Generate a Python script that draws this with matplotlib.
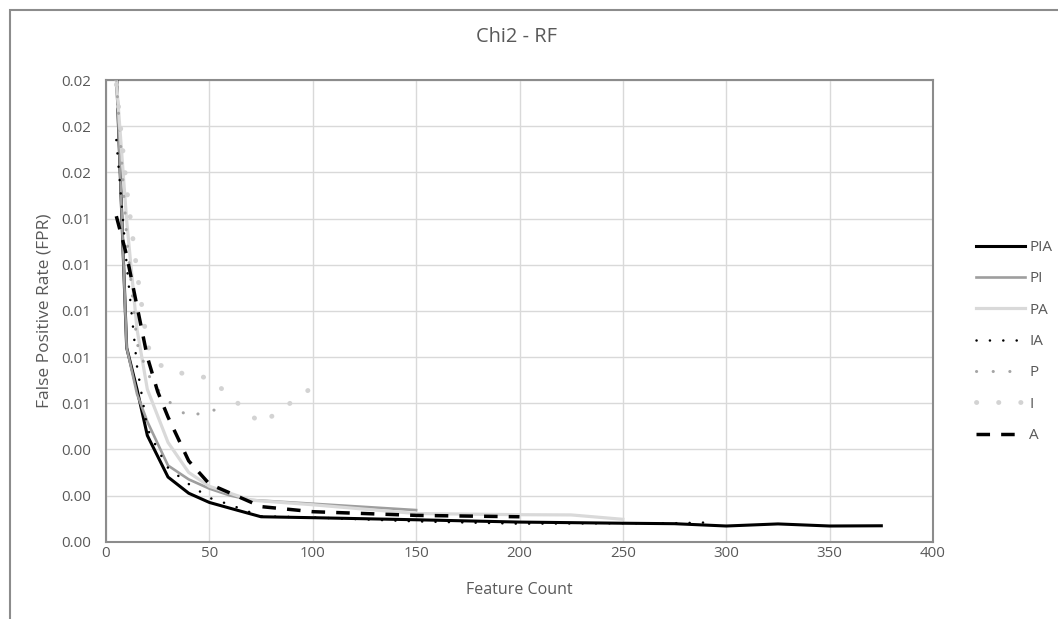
import matplotlib
matplotlib.use("Agg")
import matplotlib.pyplot as plt
from matplotlib.ticker import FormatStrFormatter, MultipleLocator
from matplotlib.patches import Rectangle

plt.rcParams['font.family'] = ['Open Sans', 'DejaVu Sans']

# ---- data ----
pia_x = [5, 10, 15, 20, 30, 40, 50, 60, 75, 100, 150, 200, 250, 275, 300, 325, 350, 375]
pia_y = [0.0205, 0.0084, 0.0066, 0.0046, 0.0028, 0.0021, 0.0017, 0.00145, 0.00108, 0.00104,
         0.00095, 0.00085, 0.00080, 0.00078, 0.00068, 0.00077, 0.00068, 0.00069]

pi_x = [5, 10, 15, 20, 30, 40, 50, 60, 70, 150]
pi_y = [0.0205, 0.0084, 0.0064, 0.0052, 0.0033, 0.0027, 0.0023, 0.0020, 0.00181, 0.00137]

pa_x = [5, 10, 15, 20, 30, 40, 50, 70, 100, 150, 200, 225, 250]
pa_y = [0.0200, 0.0139, 0.0092, 0.0066, 0.0043, 0.0030, 0.0024, 0.0018, 0.0016, 0.00122,
        0.00117, 0.00116, 0.00097]

ia_x = [5, 10, 15, 20, 25, 30, 40, 50, 60, 75, 100, 150, 200, 250, 275, 295]
ia_y = [0.0174, 0.0120, 0.0076, 0.0049, 0.0040, 0.0032, 0.0025, 0.0019, 0.0016, 0.0011,
        0.00105, 0.00088, 0.00078, 0.00080, 0.00080, 0.00084]

p_x = [5, 10, 15, 20, 25, 30, 40, 50, 56]
p_y = [0.0200, 0.0132, 0.0086, 0.0073, 0.0066, 0.0061, 0.0054, 0.0057, 0.0057]

i_x = [5, 10, 15, 20, 25, 30, 40, 50, 75, 100]
i_y = [0.0198, 0.0153, 0.0117, 0.0085, 0.0077, 0.0075, 0.0072, 0.0071, 0.0051, 0.0067]

a_x = [5, 10, 15, 20, 25, 30, 40, 50, 75, 100, 150, 200]
a_y = [0.0141, 0.0124, 0.0102, 0.0080, 0.0065, 0.0054, 0.0035, 0.0025, 0.00152, 0.0013,
       0.00114, 0.00108]

series_labels = ['PIA', 'PI', 'PA', 'IA', 'P', 'I', 'A']
title_text = 'Chi2 - RF'
x_label = 'Feature Count'
y_label = 'False Positive Rate (FPR)'

TXT = '#595959'

fig = plt.figure(figsize=(10.58, 6.19), dpi=100)
ax = fig.add_axes([106 / 1058, 1 - 541.7 / 619, (933 - 106) / 1058, (541.7 - 80) / 619])

# outer chart-area border
fig.patches.append(Rectangle((10 / 1058, -0.05), 1.1, 1 - 10 / 619 + 0.05,
                             transform=fig.transFigure, fill=False,
                             edgecolor='#8c8c8c', linewidth=1.5, zorder=0))

ax.plot(pia_x, pia_y, color='black', lw=2.2, solid_joinstyle='round', label=series_labels[0], zorder=3)
ax.plot(pi_x, pi_y, color='#9e9e9e', lw=1.9, solid_joinstyle='round', label=series_labels[1], zorder=3)
ax.plot(pa_x, pa_y, color='#d9d9d9', lw=2.3, solid_joinstyle='round', label=series_labels[2], zorder=3)
ax.plot(ia_x, ia_y, color='black', lw=1.8, linestyle=(0, (0.05, 5.3)),
        dash_capstyle='round', label=series_labels[3], zorder=3)
ax.plot(p_x, p_y, color='#a5a5a5', lw=2.2, linestyle=(0, (0.05, 5.4)),
        dash_capstyle='round', label=series_labels[4], zorder=3)
ax.plot(i_x, i_y, color='#d3d3d3', lw=3.5, linestyle=(0, (0.05, 4.5)),
        dash_capstyle='round', label=series_labels[5], zorder=3)
ax.plot(a_x, a_y, color='black', lw=2.5, linestyle=(0, (3.9, 3.2)),
        dash_capstyle='butt', label=series_labels[6], zorder=3)

ax.set_xlim(0, 400)
ax.set_ylim(0, 0.02)
ax.xaxis.set_major_locator(MultipleLocator(50))
ax.yaxis.set_major_locator(MultipleLocator(0.002))
ax.yaxis.set_major_formatter(FormatStrFormatter('%.2f'))
ax.grid(True, color='#d9d9d9', lw=1.0, zorder=0)
ax.set_axisbelow(True)
for s in ax.spines.values():
    s.set_color('#8c8c8c')
    s.set_linewidth(1.5)
ax.tick_params(axis='both', length=0, labelsize=10.8, colors=TXT)
ax.tick_params(axis='y', pad=11)
ax.tick_params(axis='x', pad=3)

ax.set_xlabel(x_label, fontsize=11.5, color=TXT, labelpad=15)
ax.set_ylabel(y_label, fontsize=12.5, color=TXT, labelpad=6)
fig.text(517 / 1058, 1 - 37 / 619, title_text, ha='center', va='center', fontsize=14.4, color=TXT)

leg = ax.legend(loc='center left', bbox_to_anchor=(976 / 1058, 1 - 341.5 / 619),
                bbox_transform=fig.transFigure, frameon=False, fontsize=11,
                handlelength=3.2, handletextpad=0.27, labelspacing=1.07,
                borderpad=0, borderaxespad=0)
for t in leg.get_texts():
    t.set_color(TXT)

fig.savefig('out.png', dpi=100)
